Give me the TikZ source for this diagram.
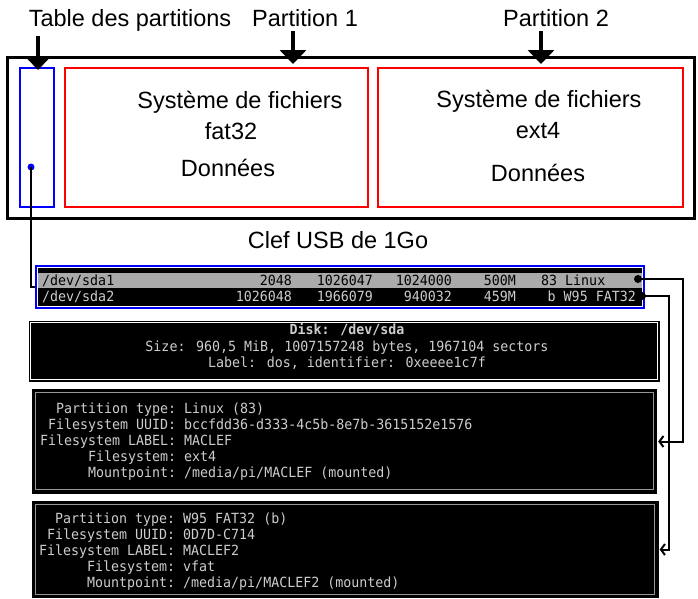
\documentclass[tikz,border=0pt]{standalone}
\usepackage{fontspec}
\setmainfont{Liberation Sans}
\newfontfamily\termfont[FakeStretch=0.95]{DejaVu Sans Mono}
\usetikzlibrary{arrows.meta}

\definecolor{termtext}{RGB}{205,205,205}
\definecolor{rowgray}{RGB}{170,170,170}
\definecolor{framegray}{RGB}{150,150,150}

\tikzset{
  lbl/.style={font=\fontsize{23.5}{28}\selectfont, inner sep=0pt, anchor=base},
  term/.style={font=\termfont\fontsize{14}{16}\selectfont, inner sep=0pt, text=termtext},
  partbox/.style={draw=red, line width=2pt, minimum width=303, minimum height=139},
  darkbox/.style={fill=black, inner sep=0pt},
  bigarrow/.style={line width=3.5pt, -{Triangle[width=26pt,length=14pt]}},
  link/.style={line width=2pt},
  back/.style={line width=2pt, -{Straight Barb[length=4pt,width=11pt]}},
}
\newcommand{\kv}[2]{\makebox[136pt][r]{#1}\makebox[8pt]{}#2}

\begin{document}
\begin{tikzpicture}[x=1pt, y=-1pt]
  \useasboundingbox (0,0) rectangle (698,598);
  % the USB key and its partitions
  \node[draw, line width=3pt, minimum width=687, minimum height=161] (usb) at (350.5,137.5) {};
  \node[draw=blue, line width=2pt, minimum width=34, minimum height=139] (tab) at (37,137.5) {};
  \node[partbox] (p1) at (216,137.5) {};
  \node[partbox, minimum width=305] (p2) at (530,137.5) {};
  \node[lbl] (fs1) at (240,108) {Système de fichiers};
  \node[lbl] (ty1) at (231,139) {fat32};
  \node[lbl] (da1) at (228,176) {Données};
  \node[lbl] (fs2) at (539,107) {Système de fichiers};
  \node[lbl] (ty2) at (538,138) {ext4};
  \node[lbl] (da2) at (538,181) {Données};
  \node[lbl] (usbname) at (338,248) {Clef USB de 1Go};
  % titles with their arrows
  \node[lbl] (ttab) at (130,26) {Table des partitions};
  \node[lbl] (tp1) at (305,26) {Partition 1};
  \node[lbl] (tp2) at (556,26) {Partition 2};
  \coordinate (a0) at (38,36);
  \coordinate (a1) at (293,31);
  \coordinate (a2) at (541,31);
  \draw[bigarrow] (a0) -- (38,70);
  \draw[bigarrow] (a1) -- (293,64);
  \draw[bigarrow] (a2) -- (541,64);
  % partition table as printed by cfdisk
  \fill[black] (38,268) rectangle (642,306);
  \fill[rowgray] (38,273) rectangle (642,288);
  \node[draw=blue, line width=2pt, minimum width=608, minimum height=42] (tbl) at (340,287) {};
  \begin{scope}[every node/.style={term}]
    \node[anchor=base west, text=black] (r1a) at (42,285) {/dev/sda1};
    \node[anchor=base east, text=black] (r1b) at (292,285) {2048};
    \node[anchor=base east, text=black] (r1c) at (373,285) {1026047};
    \node[anchor=base east, text=black] (r1d) at (452,285) {1024000};
    \node[anchor=base east, text=black] (r1e) at (516,285) {500M};
    \node[anchor=base west, text=black] (r1f) at (541,285) {83 Linux};
    \node[anchor=base west] (r2a) at (42,301) {/dev/sda2};
    \node[anchor=base east] (r2b) at (292,301) {1026048};
    \node[anchor=base east] (r2c) at (373,301) {1966079};
    \node[anchor=base east] (r2d) at (452,301) {940032};
    \node[anchor=base east] (r2e) at (516,301) {459M};
    \node[anchor=base east] (r2f) at (636,301) {b W95 FAT32};
  \end{scope}
  % disk summary
  \node[darkbox, draw=black, line width=1pt, minimum width=630, minimum height=60] (disk) at (344,351) {};
  \draw[white, line width=1.2pt] ([shift={(1.8,1.8)}]disk.north west) rectangle ([shift={(-1.8,-1.8)}]disk.south east);
  \node[term, anchor=base, font=\termfont\bfseries\fontsize{14}{16}\selectfont] (dk1) at (347,334) {Disk: /dev/sda};
  \node[term, anchor=base] (dk2) at (347,351) {Size: 960,5 MiB, 1007157248 bytes, 1967104 sectors};
  \node[term, anchor=base] (dk3) at (347,367) {Label: dos, identifier: 0xeeee1c7f};
  % details of each partition
  \node[darkbox, minimum width=625, minimum height=105] (part1) at (344.5,441.5) {};
  \draw[framegray, line width=1pt] ([shift={(4,4)}]part1.north west) rectangle ([shift={(-4,-5)}]part1.south east);
  \draw[white, line width=1pt] ([yshift=-2.5pt]part1.south west) -- ([yshift=-2.5pt]part1.south east);
  \node[darkbox, minimum width=627, minimum height=97] (part2) at (345,549.5) {};
  \draw[framegray, line width=1pt] ([shift={(4,4)}]part2.north west) rectangle ([shift={(-4,-4)}]part2.south east);
  \begin{scope}[every node/.style={term, anchor=base west}]
    \node (i1) at (40,413) {\kv{Partition type:}{Linux (83)}};
    \node (i2) at (40,429) {\kv{Filesystem UUID:}{bccfdd36-d333-4c5b-8e7b-3615152e1576}};
    \node (i3) at (40,445) {\kv{Filesystem LABEL:}{MACLEF}};
    \node (i4) at (40,461) {\kv{Filesystem:}{ext4}};
    \node (i5) at (40,477) {\kv{Mountpoint:}{/media/pi/MACLEF (mounted)}};
    \node (j1) at (39,523) {\kv{Partition type:}{W95 FAT32 (b)}};
    \node (j2) at (39,539) {\kv{Filesystem UUID:}{0D7D-C714}};
    \node (j3) at (39,555) {\kv{Filesystem LABEL:}{MACLEF2}};
    \node (j4) at (39,571) {\kv{Filesystem:}{vfat}};
    \node (j5) at (39,587) {\kv{Mountpoint:}{/media/pi/MACLEF2 (mounted)}};
  \end{scope}
  % links between the pieces
  \fill[blue] (31,167) circle (3.5pt) coordinate (dot);
  \draw[link] (dot) |- (tbl.west);
  \fill (638,279) circle (4pt) coordinate (d1);
  \fill (642,296) circle (4pt) coordinate (d2);
  \draw[link, back] (d1) -- (683,279) |- ([xshift=1pt]part1.east);
  \draw[link, back] (d2) -- (669,296) |- ([xshift=1pt]part2.east);
\end{tikzpicture}
\end{document}
